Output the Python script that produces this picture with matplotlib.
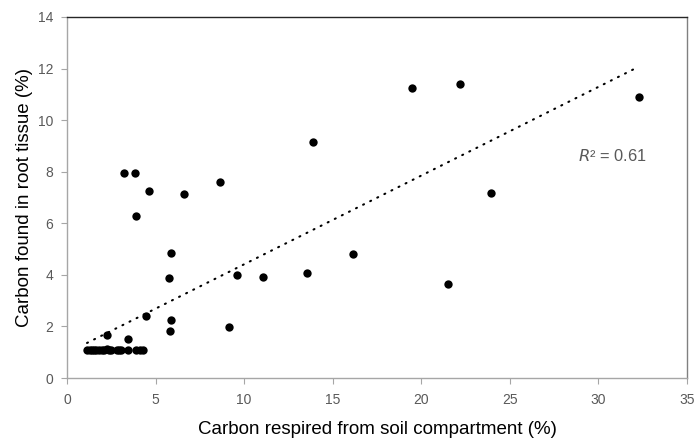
import numpy as np
import matplotlib
matplotlib.use("Agg")
import matplotlib.pyplot as plt

plt.rcParams['font.family'] = ['Liberation Sans', 'DejaVu Sans']

# Data
carbon_respired = [19.47, 22.16, 32.29, 13.89, 3.24, 3.84, 4.62, 6.63, 8.64, 3.89,
                   5.88, 5.73, 9.62, 11.08, 13.57, 16.16, 21.48, 23.92, 4.47, 5.88,
                   5.80, 9.15, 2.24, 3.44,
                   1.15, 1.3, 1.4, 1.5, 1.65, 1.8, 1.95, 2.1, 2.25, 2.35, 2.5,
                   2.8, 2.95, 3.05, 3.45, 3.9, 4.1, 4.3]
carbon_root = [11.25, 11.41, 10.88, 9.15, 7.95, 7.95, 7.26, 7.12, 7.59, 6.30,
               4.86, 3.89, 3.98, 3.92, 4.06, 4.81, 3.66, 7.16, 2.40, 2.26,
               1.84, 1.99, 1.65, 1.53,
               1.10, 1.10, 1.10, 1.10, 1.10, 1.10, 1.10, 1.10, 1.14, 1.10, 1.10,
               1.10, 1.10, 1.10, 1.10, 1.10, 1.10, 1.10]
trend_x_range = [1.13, 32.29]
trend_coef = [0.344, 0.97]   # slope, intercept
r2_label = "0.61"
x_ticks = [0, 5, 10, 15, 20, 25, 30, 35]
y_ticks = [0, 2, 4, 6, 8, 10, 12, 14]

fig = plt.figure(figsize=(6.98, 4.40), dpi=100)
ax = fig.add_axes([67/698, 1-378/440, 620/698, 361/440])

ax.scatter(carbon_respired, carbon_root, s=36, color='black', zorder=3, linewidths=0)
tx = np.array(trend_x_range)
ax.plot(tx, trend_coef[0]*tx + trend_coef[1], color='black', linewidth=1.5,
        linestyle=(0, (0.5, 3.3)), dash_capstyle='round', zorder=2)

ax.text(0.935, 0.615, r"$R$² = " + r2_label, transform=ax.transAxes,
        ha='right', va='center', fontsize=11.8, color='#595959')

ax.set_xlim(0, 35)
ax.set_ylim(0, 14)
ax.set_xticks(x_ticks)
ax.set_yticks(y_ticks)
ax.tick_params(axis='both', colors='#595959', labelsize=10, length=4, width=0.8,
               direction='out')
ax.tick_params(axis='x', pad=7)
ax.tick_params(axis='y', pad=6)
for s in ['left', 'bottom']:
    ax.spines[s].set_color('#a6a6a6')
    ax.spines[s].set_linewidth(1.0)
ax.spines['top'].set_color('#262626')
ax.spines['top'].set_linewidth(1.0)
ax.spines['right'].set_color('#808080')
ax.spines['right'].set_linewidth(1.0)
ax.tick_params(axis='both', color='#a6a6a6', labelcolor='#595959')

ax.set_xlabel("Carbon respired from soil compartment (%)", fontsize=13.5, color='black', labelpad=10)
ax.set_ylabel("Carbon found in root tissue (%)", fontsize=13.5, color='black', labelpad=3)

fig.savefig("out.png", dpi=100)
